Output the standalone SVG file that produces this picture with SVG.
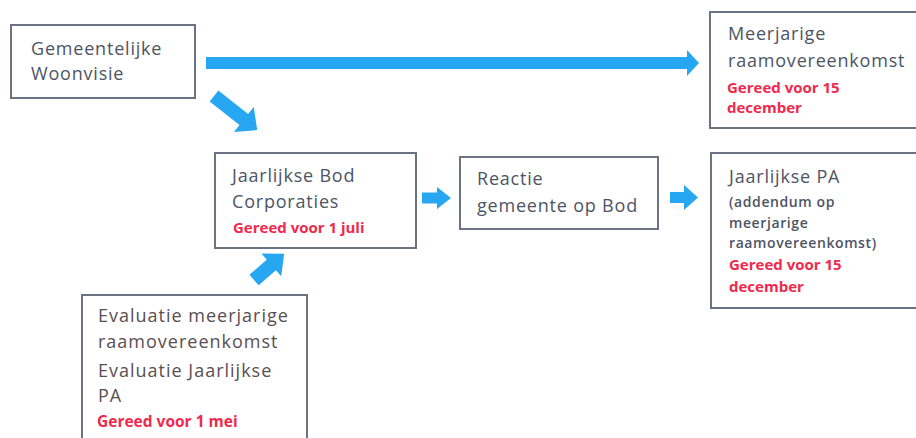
<svg xmlns="http://www.w3.org/2000/svg" width="916" height="438" viewBox="0 0 916 438">
<style>
.box{fill:#fff;stroke:#6b7282;stroke-width:2}
.t{font-family:"Open Sans","Noto Sans",sans-serif;font-size:18px;letter-spacing:0.8px;fill:#4d5464}
.tb{fill:#5a4e52;letter-spacing:1px}
.s{font-family:"Open Sans","Noto Sans",sans-serif;font-size:14px;letter-spacing:0.6px;fill:#4d5464;font-weight:600}
.r{font-family:"Open Sans","Noto Sans",sans-serif;font-size:15px;fill:#ef2a4c;font-weight:700}
.arr{fill:#27a6f2}
</style>
<rect width="916" height="438" fill="#fff"/>
<g id="connectors">
<polygon class="arr" points="206,57 687,57 687,50 699,63 687,76 687,69 206,69"/>
<polygon class="arr" transform="translate(214,96) rotate(38.3)" points="0,-7 38,-7 38,-16 55,0 38,16 38,7 0,7"/>
<polygon class="arr" transform="translate(254,280) rotate(-41)" points="0,-7 23,-7 23,-15 40,0 23,15 23,7 0,7"/>
<polygon class="arr" points="422,192.5 437,192.5 437,187 451,198 437,209 437,203.5 422,203.5"/>
<polygon class="arr" points="670,192 684,192 684,185 698,197.5 684,210 684,203 670,203"/>
</g>
<g id="woonvisie">
<rect class="box" x="11" y="25" width="184" height="73"/>
<text class="t" x="31" y="55">Gemeentelijke</text>
<text class="t" x="31" y="80">Woonvisie</text>
</g>
<g id="meerjarige">
<rect class="box" x="710" y="12" width="215" height="116"/>
<text class="t" x="728" y="40">Meerjarige</text>
<text class="t" x="728" y="67">raamovereenkomst</text>
<text class="r" x="727" y="93">Gereed voor 15</text>
<text class="r" x="727" y="113">december</text>
</g>
<g id="bod">
<rect class="box" x="215" y="153" width="201" height="95"/>
<text class="t" x="232" y="182">Jaarlijkse Bod</text>
<text class="t" x="232" y="208">Corporaties</text>
<text class="r" x="233" y="233">Gereed voor 1 juli</text>
</g>
<g id="reactie">
<rect class="box" x="460" y="157" width="198" height="72"/>
<text class="t" x="477" y="185">Reactie</text>
<text class="t" x="477" y="212">gemeente op Bod</text>
</g>
<g id="pa">
<rect class="box" x="711" y="153" width="214" height="155"/>
<text class="t" x="729" y="183">Jaarlijkse PA</text>
<text class="s" x="729" y="207">(addendum op</text>
<text class="s" x="729" y="228">meerjarige</text>
<text class="s" x="729" y="248">raamovereenkomst)</text>
<text class="r" x="729" y="270">Gereed voor 15</text>
<text class="r" x="729" y="292">december</text>
</g>
<g id="evaluatie">
<rect class="box" x="82" y="295" width="225" height="150"/>
<text class="t tb" x="98" y="322">Evaluatie meerjarige</text>
<text class="t tb" x="98" y="348">raamovereenkomst</text>
<text class="t tb" x="98" y="377">Evaluatie Jaarlijkse</text>
<text class="t tb" x="98" y="402">PA</text>
<text class="r" x="97" y="427" style="font-size:15.5px">Gereed voor 1 mei</text>
</g>
</svg>
